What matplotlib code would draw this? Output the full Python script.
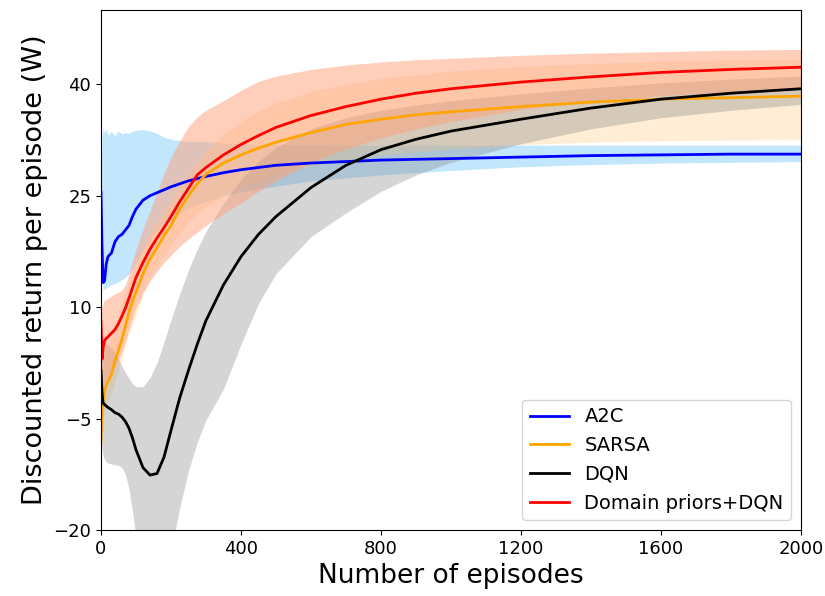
import matplotlib
matplotlib.use("Agg")
import matplotlib.pyplot as plt

episodes = [0, 3, 6, 10, 15, 20, 30, 40, 50, 60, 70, 80, 90, 100, 120, 140, 160, 180, 200,
            225, 250, 275, 300, 350, 400, 450, 500, 600, 700, 800, 900, 1000, 1200, 1400, 1600, 1800, 2000]

a2c_mean = [25.5, 18, 13.3, 13.5, 15.8, 16.8, 17.3, 18.8, 19.5, 19.8, 20.4, 21, 22.2, 23.2, 24.4, 25, 25.4, 25.8, 26.2,
            26.6, 27, 27.3, 27.6, 28.1, 28.5, 28.8, 29.1, 29.4, 29.6, 29.8, 29.9, 30.0, 30.2, 30.4, 30.5, 30.6, 30.6]
a2c_upper = [26, 33, 34.2, 33.5, 34, 33.2, 33.6, 33.1, 33.7, 33.3, 33.5, 33.4, 33.7, 33.8, 33.9, 33.7, 33.4, 32.9, 32.6,
             32.4, 32.3, 32.3, 32.3, 32.1, 32, 31.9, 31.9, 31.9, 31.8, 31.8, 31.8, 31.8, 31.8, 31.8, 31.8, 31.8, 31.8]
a2c_lower = [25, 14, 12.3, 12.4, 12.6, 12.8, 13, 13.2, 13.4, 13.7, 14, 14.5, 15.2, 16, 17.5, 19, 20.3, 21.3, 22,
             22.7, 23.3, 23.8, 24.2, 25, 25.5, 25.9, 26.3, 27, 27.4, 27.8, 28.1, 28.4, 28.9, 29.2, 29.4, 29.5, 29.6]

sarsa_mean = [-8, -4, -2.5, -1.3, -0.5, 0, 1, 2.8, 4.2, 5.7, 7.5, 9.3, 10.8, 12, 14.5, 16.5, 18, 19.6, 21,
              23.2, 25, 26.6, 27.9, 29.4, 30.5, 31.4, 32.2, 33.5, 34.6, 35.3, 35.9, 36.3, 37, 37.6, 38, 38.2, 38.4]
sarsa_upper = [-3, 0, 2, 3, 4, 5, 6, 7.5, 9, 10.5, 12, 13.5, 14.8, 16, 18, 20, 21.5, 23, 24.3,
               26.2, 28, 29.6, 31, 33.3, 35, 36.4, 37.5, 39, 40, 40.8, 41.3, 41.8, 42.4, 42.8, 43.1, 43.3, 43.4]
sarsa_lower = [-12, -8, -5, -4, -3, -2.5, -1.5, 0, 1.5, 3, 4.8, 6.5, 7.8, 9, 11.5, 14, 15.5, 17, 18.3,
               20, 21.5, 22.6, 23.5, 25, 26.2, 27.1, 27.8, 29, 29.8, 30.5, 30.9, 31.3, 31.9, 32.2, 32.4, 32.5, 32.6]

dqn_mean = [1.5, -1.5, -2.9, -3.1, -3.3, -3.5, -3.8, -4.2, -4.4, -4.8, -5.4, -6.3, -7.6, -9.2, -11.6, -12.6, -12.4, -10.2, -6.6,
            -2.2, 1.5, 5, 8.2, 13, 16.8, 19.8, 22.2, 26.1, 29.1, 31.2, 32.6, 33.7, 35.3, 36.8, 38, 38.8, 39.4]
dqn_upper = [6, 6, 6, 5.5, 5.2, 5, 4.5, 3.8, 3, 2, 1.2, 0.4, -0.3, -0.7, -0.7, 0.5, 2.5, 5.3, 8.3,
             11.8, 15, 17.8, 20.2, 24, 27.2, 29.6, 31.5, 34, 35.5, 36.5, 37.2, 37.8, 38.7, 39.5, 40.2, 40.7, 41.1]
dqn_lower = [-6, -9, -10, -10.5, -10.8, -11, -11.1, -11.2, -11.3, -11.6, -12.5, -14.5, -17.5, -21, -27, -30, -30, -28, -23,
             -17, -12, -8.2, -5.2, -1, 5, 10.5, 14.5, 19.5, 22.7, 25.6, 27.8, 29.5, 32, 34, 35.5, 36.5, 37.3]

prior_mean = [8, 3, 4.5, 5.5, 5.8, 6, 6.5, 7, 7.8, 8.8, 9.9, 11.2, 12.6, 14, 16, 17.8, 19.3, 20.7, 22.2,
              24.2, 26, 27.8, 28.8, 30.5, 31.9, 33.1, 34.2, 35.8, 37, 38, 38.8, 39.4, 40.3, 41, 41.6, 42, 42.3]
prior_upper = [10, 10, 10.5, 11, 11, 11.2, 11.5, 11.8, 12, 12.3, 13, 14.5, 16.2, 17.8, 20.5, 23, 25.4, 28, 30.2,
               32.4, 34.3, 35.6, 36.5, 37.8, 39.2, 40.4, 41.1, 42, 42.6, 43, 43.3, 43.5, 43.9, 44.2, 44.4, 44.6, 44.7]
prior_lower = [2, -2, -1, 0, 0.5, 1, 1.5, 2, 3, 4, 5.5, 7, 8.5, 10, 12, 13.5, 14.8, 16, 17,
               18.2, 19.2, 20.1, 21, 22.6, 24, 25.6, 27, 29.5, 31.3, 32.8, 34, 35, 36.6, 37.7, 38.5, 39, 39.5]

fig = plt.figure(figsize=(8.25, 5.96), dpi=100)
ax = fig.add_axes([0.1224, 0.1107, 0.8485, 0.8725])

# shaded spread first, then the mean curves on top
ax.fill_between(episodes, a2c_lower, a2c_upper, color='lightskyblue', alpha=0.5, linewidth=0)
ax.fill_between(episodes, sarsa_lower, sarsa_upper, color='navajowhite', alpha=0.5, linewidth=0)
ax.fill_between(episodes, dqn_lower, dqn_upper, color='grey', alpha=0.33, linewidth=0)
ax.fill_between(episodes, prior_lower, prior_upper, color='lightsalmon', alpha=0.5, linewidth=0)

ax.plot(episodes, a2c_mean, color='blue', lw=2, label='A2C')
ax.plot(episodes, sarsa_mean, color='orange', lw=2, label='SARSA')
ax.plot(episodes, dqn_mean, color='black', lw=2, label='DQN')
ax.plot(episodes, prior_mean, color='red', lw=2, label='Domain priors+DQN')

ax.set_xlim(0, 2000)
ax.set_ylim(-20, 50)
ax.set_xticks([0, 400, 800, 1200, 1600, 2000])
ax.set_yticks([-20, -5, 10, 25, 40])
ax.tick_params(labelsize=13)
ax.set_xlabel('Number of episodes', fontsize=19)
ax.set_ylabel('Discounted return per episode (W)', fontsize=19.5)
ax.legend(loc='lower right', fontsize=14)

fig.savefig('out.png', dpi=100)
